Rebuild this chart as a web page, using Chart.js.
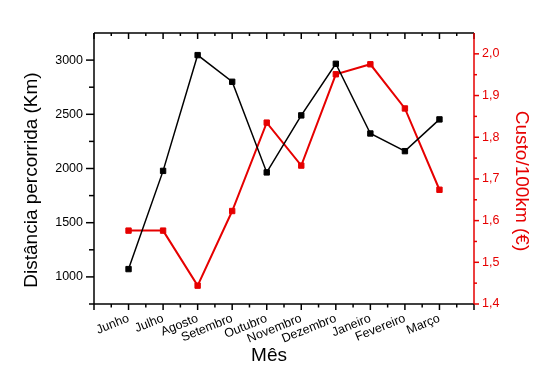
<!DOCTYPE html>
<html><head><meta charset="utf-8">
<script src="https://cdn.jsdelivr.net/npm/chart.js@4"></script>
<style>html,body{margin:0;padding:0;background:#fff;overflow:hidden}#wrap{width:555px;height:373px}</style>
</head><body><div id="wrap"><canvas id="c" width="555" height="373"></canvas></div>
<script>
const months = ['Junho','Julho','Agosto','Setembro','Outubro','Novembro','Dezembro','Janeiro','Fevereiro','Março'];
const distancia = [1072, 1978, 3046, 2800, 1964, 2490, 2966, 2323, 2160, 2453];
const custo = [1.576, 1.576, 1.444, 1.623, 1.835, 1.732, 1.951, 1.975, 1.869, 1.674];
const leftTicks = [1000, 1500, 2000, 2500, 3000];
const rightTicks = [1.4, 1.5, 1.6, 1.7, 1.8, 1.9, 2.0];
const xTitle = 'Mês';
const leftTitle = 'Distância percorrida (Km)';
const rightTitle = 'Custo/100km (€)';

const RED = '#e60000';
const FONT = "'Liberation Sans', Arial, sans-serif";

function seg(ctx, x1, y1, x2, y2) { ctx.beginPath(); ctx.moveTo(x1, y1); ctx.lineTo(x2, y2); ctx.stroke(); }

const axesPlugin = {
  id: 'axesPlugin',
  afterDraw(chart) {
    const { ctx, chartArea: a, scales } = chart;
    const xs = scales.x, ys = scales.y, yr = scales.y1;
    ctx.save();
    ctx.lineWidth = 1.5;
    ctx.strokeStyle = '#000';
    seg(ctx, a.left, a.bottom, a.right, a.bottom);
    seg(ctx, a.left, a.top, a.right, a.top);
    seg(ctx, a.left, a.top, a.left, a.bottom);
    for (let k = 0; k <= 22; k++) {
      const v = k / 2, px = xs.getPixelForValue(v), major = k % 2 === 0;
      seg(ctx, px, a.bottom, px, a.bottom + (major ? 6 : 3.5));
      seg(ctx, px, a.top, px, a.top + (major ? 6 : 3));
    }
    for (let v = 750; v <= 3000; v += 250) {
      const py = ys.getPixelForValue(v), major = v % 500 === 0;
      seg(ctx, a.left - (major ? 8 : 5), py, a.left, py);
    }
    ctx.strokeStyle = RED;
    seg(ctx, a.right, a.top, a.right, a.bottom);
    for (let k = 0; k <= 12; k++) {
      const v = 1.4 + k * 0.05, py = yr.getPixelForValue(v), major = k % 2 === 0;
      seg(ctx, a.right, py, a.right + (major ? 5 : 3), py);
    }
    // titles
    ctx.font = '19px ' + FONT;
    ctx.textAlign = 'center';
    ctx.fillStyle = '#000';
    ctx.textBaseline = 'alphabetic';
    ctx.fillText(xTitle, 269, 361);
    ctx.textBaseline = 'middle';
    ctx.save(); ctx.translate(32, 180); ctx.rotate(-Math.PI / 2); ctx.fillText(leftTitle, 0, 0); ctx.restore();
    ctx.fillStyle = RED;
    ctx.save(); ctx.translate(521, 181); ctx.rotate(Math.PI / 2); ctx.fillText(rightTitle, 0, 0); ctx.restore();
    ctx.restore();
  }
};

new Chart(document.getElementById('c'), {
  type: 'line',
  data: {
    datasets: [
      {
        data: distancia.map((v, i) => ({ x: i + 1, y: v })),
        yAxisID: 'y',
        borderColor: '#000', backgroundColor: '#000',
        borderWidth: 1.5, pointStyle: 'rect', pointRadius: 3.8, pointBorderWidth: 1,
        pointBackgroundColor: '#000', pointBorderColor: '#000', tension: 0
      },
      {
        data: custo.map((v, i) => ({ x: i + 1, y: v })),
        yAxisID: 'y1',
        borderColor: RED, backgroundColor: RED,
        borderWidth: 2, pointStyle: 'rect', pointRadius: 3.8, pointBorderWidth: 1,
        pointBackgroundColor: RED, pointBorderColor: RED, tension: 0
      }
    ]
  },
  options: {
    responsive: false, animation: false, devicePixelRatio: 1,
    layout: { padding: { top: 33, left: 0, right: 0, bottom: 0 } },
    plugins: { legend: { display: false }, tooltip: { enabled: false } },
    scales: {
      x: {
        type: 'linear', position: 'bottom', min: 0, max: 11,
        afterBuildTicks: s => { s.ticks = months.map((m, i) => ({ value: i + 1 })); },
        afterFit: s => { s.height = 69; },
        grid: { display: false, drawTicks: false }, border: { display: false },
        ticks: {
          autoSkip: false, minRotation: 22, maxRotation: 22, padding: 7,
          color: '#000', font: { family: FONT, size: 12.5 },
          callback: v => months[v - 1]
        }
      },
      y: {
        type: 'linear', position: 'left', min: 750, max: 3250,
        afterBuildTicks: s => { s.ticks = leftTicks.map(v => ({ value: v })); },
        afterFit: s => { s.width = 94; },
        grid: { display: false, drawTicks: false }, border: { display: false },
        ticks: { padding: 11, color: '#000', font: { family: FONT, size: 12.5 }, callback: v => String(v) }
      },
      y1: {
        type: 'linear', position: 'right', min: 1.4, max: 2.05,
        afterBuildTicks: s => { s.ticks = rightTicks.map(v => ({ value: v })); },
        afterFit: s => { s.width = 81; },
        grid: { display: false, drawTicks: false }, border: { display: false },
        ticks: { padding: 8, color: RED, font: { family: FONT, size: 12.5 }, callback: v => v.toFixed(1).replace('.', ',') }
      }
    }
  },
  plugins: [axesPlugin]
});
</script>
</body></html>
